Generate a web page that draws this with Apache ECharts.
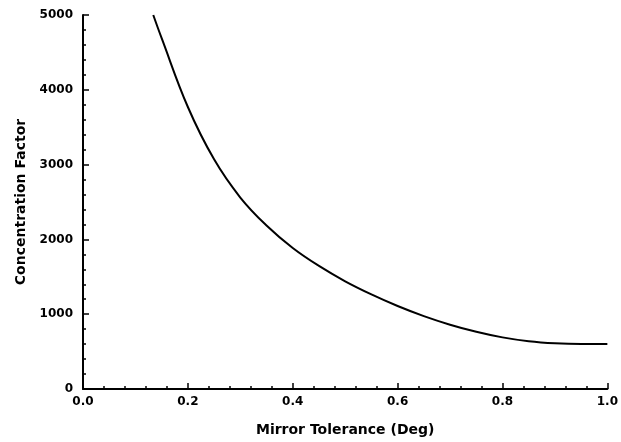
<!DOCTYPE html>
<html>
<head>
<meta charset="utf-8">
<script src="https://cdn.jsdelivr.net/npm/echarts@6/dist/echarts.min.js"></script>
<style>html,body{margin:0;padding:0;background:#fff}#c{width:621px;height:442px}</style>
</head>
<body>
<div id="c"></div>
<script>
var tolerance = [0.134, 0.15, 0.2, 0.25, 0.3, 0.35, 0.4, 0.45, 0.5, 0.55, 0.6, 0.65, 0.7, 0.75, 0.8, 0.85, 0.9, 0.95, 1.0];
var concentration = [5000, 4690, 3770, 3070, 2560, 2185, 1885, 1645, 1440, 1265, 1110, 975, 860, 765, 690, 638, 610, 600, 603];
var xTickLabels = ['0.0', '0.2', '0.4', '0.6', '0.8', '1.0'];
var yTickLabels = ['0', '1000', '2000', '3000', '4000', '5000'];

var points = tolerance.map(function (t, i) { return [t, concentration[i]]; });
var font = 'DejaVu Sans';
var chart = echarts.init(document.getElementById('c'));
chart.setOption({
  backgroundColor: '#fff',
  animation: false,
  grid: { left: 83, right: 12, top: 15, bottom: 50 },
  xAxis: {
    type: 'value', min: 0, max: 1, interval: 0.2,
    name: 'Mirror Tolerance (Deg)', nameLocation: 'middle', nameGap: 34,
    nameTextStyle: { fontFamily: font, fontSize: 14, fontWeight: 'bold', color: '#000' },
    axisLine: { lineStyle: { color: '#000', width: 2 } },
    axisTick: { inside: true, length: 6, lineStyle: { color: '#000', width: 1.5 } },
    minorTick: { show: true, splitNumber: 5, length: 3, lineStyle: { color: '#000', width: 1.5 } },
    splitLine: { show: false },
    axisLabel: {
      margin: 7, fontFamily: font, fontSize: 12, fontWeight: 'bold', color: '#000',
      formatter: function (v) { return xTickLabels[Math.round(v / 0.2)]; }
    }
  },
  yAxis: {
    type: 'value', min: 0, max: 5000, interval: 1000,
    name: 'Concentration Factor', nameLocation: 'middle', nameGap: 55,
    nameTextStyle: { fontFamily: font, fontSize: 14, fontWeight: 'bold', color: '#000' },
    axisLine: { show: true, lineStyle: { color: '#000', width: 2 } },
    axisTick: { show: true, inside: true, length: 6, lineStyle: { color: '#000', width: 1.5 } },
    minorTick: { show: true, splitNumber: 5, length: 3, lineStyle: { color: '#000', width: 1.5 } },
    splitLine: { show: false },
    axisLabel: {
      margin: 10, fontFamily: font, fontSize: 12, fontWeight: 'bold', color: '#000',
      formatter: function (v) { return yTickLabels[Math.round(v / 1000)]; }
    }
  },
  series: [{
    type: 'line', data: points, smooth: 0.4, showSymbol: false,
    lineStyle: { color: '#000', width: 2 }
  }]
});
</script>
</body>
</html>
